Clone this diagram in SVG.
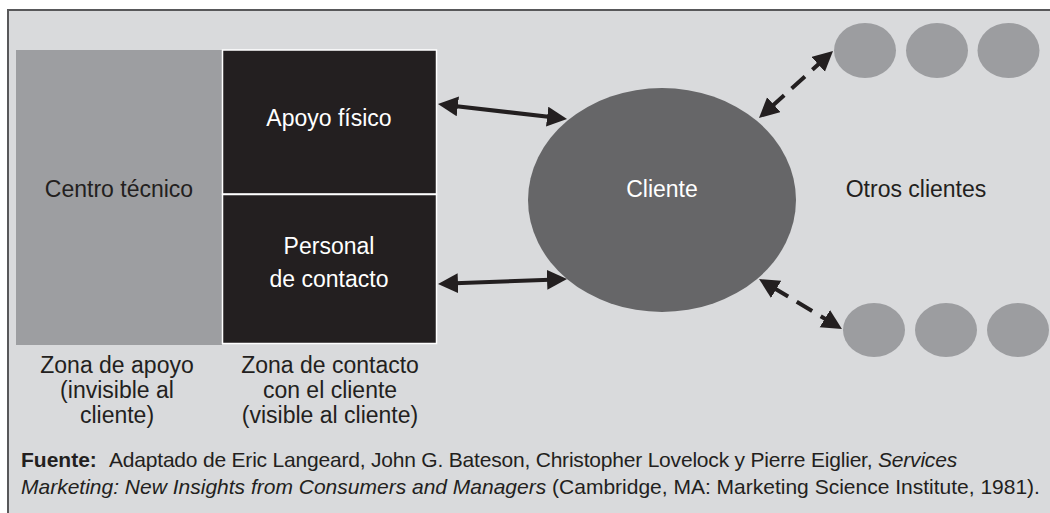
<svg xmlns="http://www.w3.org/2000/svg" width="1050" height="513" viewBox="0 0 1050 513">
<style>
  text { font-family: "Liberation Sans", Arial, sans-serif; font-size: 23px; fill: #231f20; text-anchor: middle; }
  .w { fill: #ffffff; }
  .foot { font-size: 21px; text-anchor: start; }
  .solid { stroke: #231f20; stroke-width: 4; fill: none; marker-start: url(#ah); marker-end: url(#ah); }
  .dash { stroke: #231f20; stroke-width: 4; fill: none; stroke-dasharray: 24 10 18 10 40; marker-start: url(#ah); marker-end: url(#ah); }
  .other { fill: #9c9da0; }
</style>
<defs>
  <marker id="ah" markerUnits="userSpaceOnUse" markerWidth="22" markerHeight="22" viewBox="0 0 22 22" refX="10" refY="10" orient="auto-start-reverse">
    <path d="M0,0 L20,10 L0,20 Z" fill="#231f20"/>
  </marker>
</defs>
<rect x="0" y="0" width="1050" height="513" fill="#ffffff"/>
<rect id="frame" x="8" y="10" width="1060" height="520" fill="#d9dadc" stroke="#58585a" stroke-width="2"/>

<g id="centro-tecnico">
  <rect x="16" y="50" width="206" height="295" fill="#9d9ea1"/>
  <text x="119" y="197">Centro técnico</text>
</g>
<g id="apoyo-fisico">
  <rect x="222.5" y="50" width="214" height="144" fill="#231f20" stroke="#ffffff" stroke-width="1.5"/>
  <text class="w" x="329" y="126">Apoyo físico</text>
</g>
<g id="personal-contacto">
  <rect x="222.5" y="194.5" width="214" height="149" fill="#231f20" stroke="#ffffff" stroke-width="1.5"/>
  <text class="w" x="329" y="254">Personal</text>
  <text class="w" x="329" y="287">de contacto</text>
</g>
<g id="cliente">
  <ellipse cx="662" cy="200" rx="134" ry="112" fill="#666668"/>
  <text class="w" x="662" y="197">Cliente</text>
</g>
<g id="otros-clientes-arriba">
  <ellipse class="other" cx="865" cy="50.5" rx="31" ry="27.5"/>
  <ellipse class="other" cx="937" cy="50.5" rx="31" ry="27.5"/>
  <ellipse class="other" cx="1008.5" cy="50.5" rx="31" ry="27.5"/>
</g>
<g id="otros-clientes-abajo">
  <ellipse class="other" cx="874" cy="330" rx="31" ry="27"/>
  <ellipse class="other" cx="946" cy="330" rx="31" ry="27"/>
  <ellipse class="other" cx="1018" cy="330" rx="31" ry="27"/>
</g>
<g id="otros-clientes-label">
  <text x="916" y="197">Otros clientes</text>
</g>

<g id="connectors">
  <line class="solid" x1="447.9" y1="105.2" x2="557.1" y2="117.8"/>
  <line class="solid" x1="448" y1="283.6" x2="557" y2="279.4"/>
  <line class="dash" x1="766.4" y1="111.3" x2="825.6" y2="57.7"/>
  <line class="dash" x1="767.6" y1="284.2" x2="833.4" y2="323.8"/>
</g>

<g id="zona-apoyo">
  <text x="117" y="373">Zona de apoyo</text>
  <text x="117" y="398">(invisible al</text>
  <text x="117" y="423">cliente)</text>
</g>
<g id="zona-contacto">
  <text x="330" y="373">Zona de contacto</text>
  <text x="330" y="398">con el cliente</text>
  <text x="330" y="423">(visible al cliente)</text>
</g>

<g id="fuente">
  <text class="foot" x="21" y="467"><tspan font-weight="bold">Fuente:</tspan><tspan x="109" letter-spacing="-0.2">Adaptado de Eric Langeard, John G. Bateson, Christopher Lovelock y Pierre Eiglier, </tspan><tspan font-style="italic" letter-spacing="-0.2">Services</tspan></text>
  <text class="foot" x="21" y="494"><tspan font-style="italic">Marketing: New Insights from Consumers and Managers</tspan> (Cambridge, MA: Marketing Science Institute, 1981).</text>
</g>
</svg>
